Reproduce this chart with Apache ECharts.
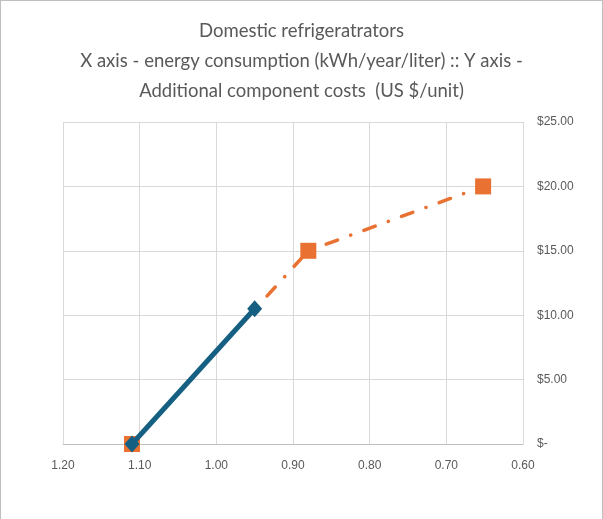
<!DOCTYPE html>
<html><head><meta charset="utf-8">
<script src="https://cdn.jsdelivr.net/npm/echarts@6/dist/echarts.min.js"></script>
<style>
html,body{margin:0;padding:0;background:#fff;}
#wrap{position:absolute;left:0;top:0;width:601px;height:540px;border:1px solid #bfbfbf;}
#c{position:absolute;left:0;top:0;width:603px;height:519px;}
</style></head>
<body>
<div id="wrap"></div>
<div id="c"></div>
<script>
const titleLines = ['Domestic refrigeratrators', 'X axis - energy consumption (kWh/year/liter) :: Y axis -', 'Additional component costs  (US $/unit)'];
const blueX = [1.11, 0.95];
const blueY = [0, 10.5];
const orangeX = [1.11, 0.88, 0.652];
const orangeY = [0, 15, 20];
const xTicks = {min: 0.6, max: 1.2, step: 0.1};
const yTicks = {min: 0, max: 25, step: 5};

const chart = echarts.init(document.getElementById('c'));
const grey = '#595959';
chart.setOption({
  animation: false,
  title: {
    text: titleLines.join('\n'),
    left: 'center', top: 11,
    textStyle: {fontFamily: 'Lato', fontSize: 18.5, fontWeight: 'normal', color: grey, lineHeight: 30}
  },
  grid: {left: 63, right: 80, top: 122, bottom: 75},
  xAxis: {
    type: 'value', inverse: true, min: xTicks.min, max: xTicks.max, interval: xTicks.step,
    axisLine: {show: true, onZero: false, lineStyle: {color: '#bfbfbf', width: 1}},
    axisTick: {show: false},
    splitLine: {show: true, lineStyle: {color: '#d9d9d9', width: 1}},
    axisLabel: {color: grey, fontFamily: 'Liberation Sans', fontSize: 12, margin: 16,
      formatter: v => v.toFixed(2)}
  },
  yAxis: {
    type: 'value', position: 'right', min: yTicks.min, max: yTicks.max, interval: yTicks.step,
    axisLine: {show: false}, axisTick: {show: false},
    splitLine: {show: true, lineStyle: {color: '#d9d9d9', width: 1}},
    axisLabel: {color: grey, fontFamily: 'Liberation Sans', fontSize: 12, margin: 14,
      formatter: v => v === 0 ? '$-' : '$' + v.toFixed(2)}
  },
  series: [
    {
      type: 'line', z: 2,
      data: orangeX.map((x, i) => [x, orangeY[i]]),
      symbol: 'rect', symbolSize: 16,
      itemStyle: {color: '#E97132'},
      lineStyle: {color: '#E97132', width: 3.5, type: [12, 14, 0.1, 14], cap: 'round'}
    },
    {
      type: 'line', z: 3,
      data: blueX.map((x, i) => [x, blueY[i]]),
      symbol: 'diamond', symbolSize: [15, 17],
      itemStyle: {color: '#156082'},
      lineStyle: {color: '#156082', width: 5}
    }
  ]
});
</script>
</body></html>
